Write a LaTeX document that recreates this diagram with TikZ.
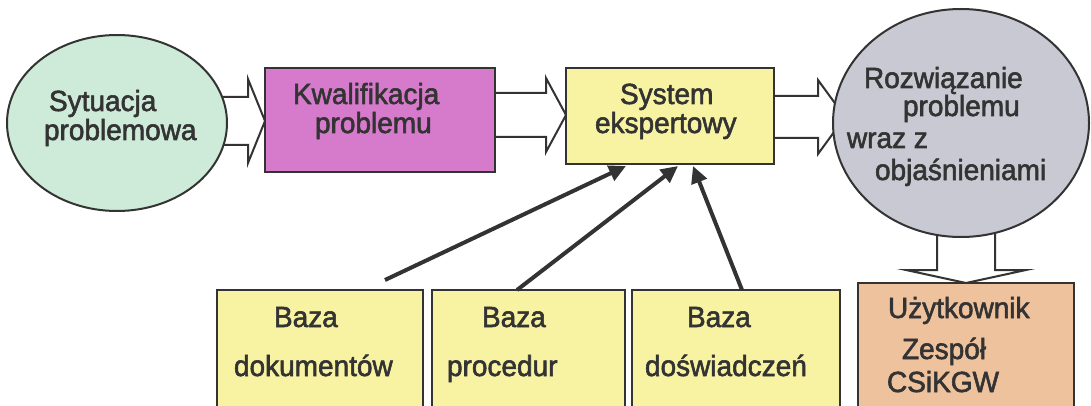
\documentclass[tikz,border=0pt]{standalone}
\usepackage{fontspec}
\usepackage{graphicx}
\setmainfont{Liberation Sans}
\newfontfamily\diagfont{Liberation Sans}[FakeBold=2]
\usetikzlibrary{shapes.geometric,arrows.meta}

\definecolor{ink}{HTML}{333333}
\definecolor{situation}{HTML}{CDEBD8}
\definecolor{qualify}{HTML}{D67ACB}
\definecolor{expert}{HTML}{F8F3A2}
\definecolor{solution}{HTML}{C9C9D3}
\definecolor{user}{HTML}{EFC29E}

% slightly tall lettering
\newcommand{\tall}[1]{\scalebox{1}[1.04]{#1}}

\tikzset{
  box/.style={draw=ink, line width=2pt, inner sep=0pt, outer sep=0pt},
  oval/.style={box, ellipse},
  lbl/.style={anchor=base west, inner sep=0pt, outer sep=0pt, text=ink,
              font=\diagfont\fontsize{28}{30}\selectfont},
  feed/.style={draw=ink, line width=4pt, -{Triangle[length=17pt,width=16pt]}},
  block/.style={draw=ink, line width=2pt, fill=white, line join=miter}
}

\begin{document}
\begin{tikzpicture}[x=1pt,y=-1pt]
  \useasboundingbox (0,0) rectangle (1091,406);
  \clip (0,0) rectangle (1091,406);
  \fill[white] (0,0) rectangle (1091,406);

  % hollow block arrows (drawn first, shapes overlap their ends)
  \draw[block] (200,97) -- (248,97) -- (248,79) -- (265,121) -- (248,163) -- (248,145) -- (200,145);
  \draw[block] (495,93) -- (546,93) -- (546,78) -- (566,115) -- (546,152) -- (546,137) -- (495,137);
  \draw[block] (774,96) -- (818,96) -- (818,80) -- (845,117) -- (818,154) -- (818,138) -- (774,138);
  \draw[block] (937,220) -- (937,270) -- (906,270) -- (966,283) -- (1026,270) -- (995,270) -- (995,220);

  % main flow
  \node[oval, fill=situation, minimum width=220pt, minimum height=176pt] (sit) at (117,123) {};
  \node[box, fill=qualify, minimum width=230pt, minimum height=104pt] (kw) at (380,120) {};
  \node[box, fill=expert, minimum width=208pt, minimum height=96pt] (sys) at (670,116) {};
  \node[oval, fill=solution, minimum width=256pt, minimum height=228pt] (sol) at (961,123) {};
  \node[box, fill=user, minimum width=216pt, minimum height=140pt] (usr) at (966,353) {};

  % knowledge bases
  \node[box, fill=expert, minimum width=206pt, minimum height=134pt] (b1) at (320,357) {};
  \node[box, fill=expert, minimum width=193pt, minimum height=134pt] (b2) at (528.5,357) {};
  \node[box, fill=expert, minimum width=208pt, minimum height=134pt] (b3) at (736,357) {};

  % labels
  \node[lbl] (sit1) at (49,111) {\tall{Sytuacja}};
  \node[lbl] (sit2) at (44,140) {\tall{problemowa}};
  \node[lbl] (kw1) at (293,104) {\tall{Kwalifikacja}};
  \node[lbl] (kw2) at (315,133) {\tall{problemu}};
  \node[lbl] (sys1) at (620,104) {\tall{System}};
  \node[lbl] (sys2) at (595,133) {\tall{ekspertowy}};
  \node[lbl] (sol1) at (864,88) {\tall{Rozwiązanie}};
  \node[lbl] (sol2) at (903,116) {\tall{problemu}};
  \node[lbl] (sol3) at (847,148) {\tall{wraz z}};
  \node[lbl] (sol4) at (875,180) {\tall{objaśnieniami}};
  \node[lbl] (b1a) at (274,327) {\tall{Baza}};
  \node[lbl] (b1b) at (234,376) {\tall{dokumentów}};
  \node[lbl] (b2a) at (482,327) {\tall{Baza}};
  \node[lbl] (b2b) at (447,376) {\tall{procedur}};
  \node[lbl] (b3a) at (687,327) {\tall{Baza}};
  \node[lbl] (b3b) at (645,376) {\tall{doświadczeń}};
  \node[lbl] (usr1) at (888,318) {\tall{Użytkownik}};
  \node[lbl] (usr2) at (902,359) {\tall{Zespół}};
  \node[lbl] (usr3) at (887,392) {\tall{CSiKGW}};

  % feeds from the bases into the expert system
  \coordinate (s1) at (385,280);
  \coordinate (s2) at (517,290);
  \coordinate (s3) at (742,290);
  \coordinate (e1) at (626,166);
  \coordinate (e2) at (678,166);
  \coordinate (e3) at (693,166);
  \draw[feed] (s1) -- (e1);
  \draw[feed] (s2) -- (e2);
  \draw[feed] (s3) -- (e3);
\end{tikzpicture}
\end{document}
